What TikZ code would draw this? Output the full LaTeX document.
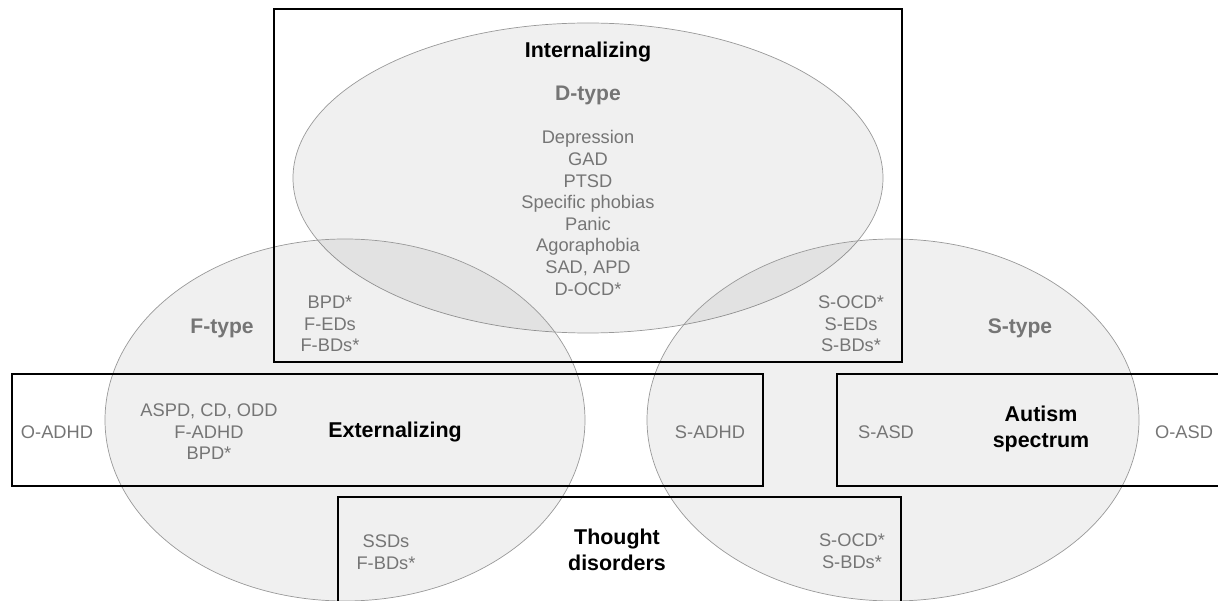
\documentclass[tikz,border=0pt]{standalone}
\usepackage{fontspec}
\setmainfont{Liberation Sans}
\begin{document}
\begin{tikzpicture}[x=0.02cm,y=-0.02cm,
		disorder/.style={align=center,text=black!54,font=\fontsize{10.4}{12.3}\selectfont},
		typename/.style={text=black!54,font=\bfseries\fontsize{12}{14}\selectfont},
		spectrum/.style={align=center,text=black,font=\bfseries\fontsize{12.2}{15}\selectfont},
		cluster/.style={draw=black!40,fill=black,fill opacity=0.06},
		areabox/.style={draw=black,line width=1.5pt}]
		\useasboundingbox (0,0) rectangle (1218,601);
		\clip (0,0) rectangle (1218,601);
		\path[cluster] (588,178) ellipse [x radius=295,y radius=155];
		\path[cluster] (345,420) ellipse [x radius=240,y radius=181];
		\path[cluster] (893,420) ellipse [x radius=246,y radius=181];
		\draw[areabox] (274,9) rectangle (902,362);
		\draw[areabox] (12,374) rectangle (763,486);
		\draw[areabox] (837,374) rectangle (1240,486);
		\draw[areabox] (338,497) rectangle (901,630);
		\path (588,52) node(internal)[spectrum] {Internalizing}
		(588,95) node(dtype)[typename] {D-type}
		(588,213) node(dlist)[disorder] {Depression\\GAD\\PTSD\\Specific phobias\\Panic\\Agoraphobia\\SAD, APD\\D-OCD*}
		(222,328) node(ftype)[typename] {F-type}
		(330,324) node(dfover)[disorder] {BPD*\\F-EDs\\F-BDs*}
		(1020,328) node(stype)[typename] {S-type}
		(851,324) node(dsover)[disorder] {S-OCD*\\S-EDs\\S-BDs*};
		\path (57,432) node(oadhd)[disorder] {O-ADHD}
		(209,432) node(flist)[disorder] {ASPD, CD, ODD\\F-ADHD\\BPD*}
		(395,432) node(external)[spectrum] {Externalizing}
		(710,432) node(sadhd)[disorder] {S-ADHD}
		(886,432) node(sasd)[disorder] {S-ASD}
		(1041,429) node(autism)[spectrum] {Autism\\spectrum}
		(1184,432) node(oasd)[disorder] {O-ASD};
		\path (386,552) node(tlist)[disorder] {SSDs\\F-BDs*}
		(617,550) node(thought)[spectrum] {Thought\\disorders}
		(852,551) node(stlist)[disorder] {S-OCD*\\S-BDs*};
	\end{tikzpicture}
\end{document}
